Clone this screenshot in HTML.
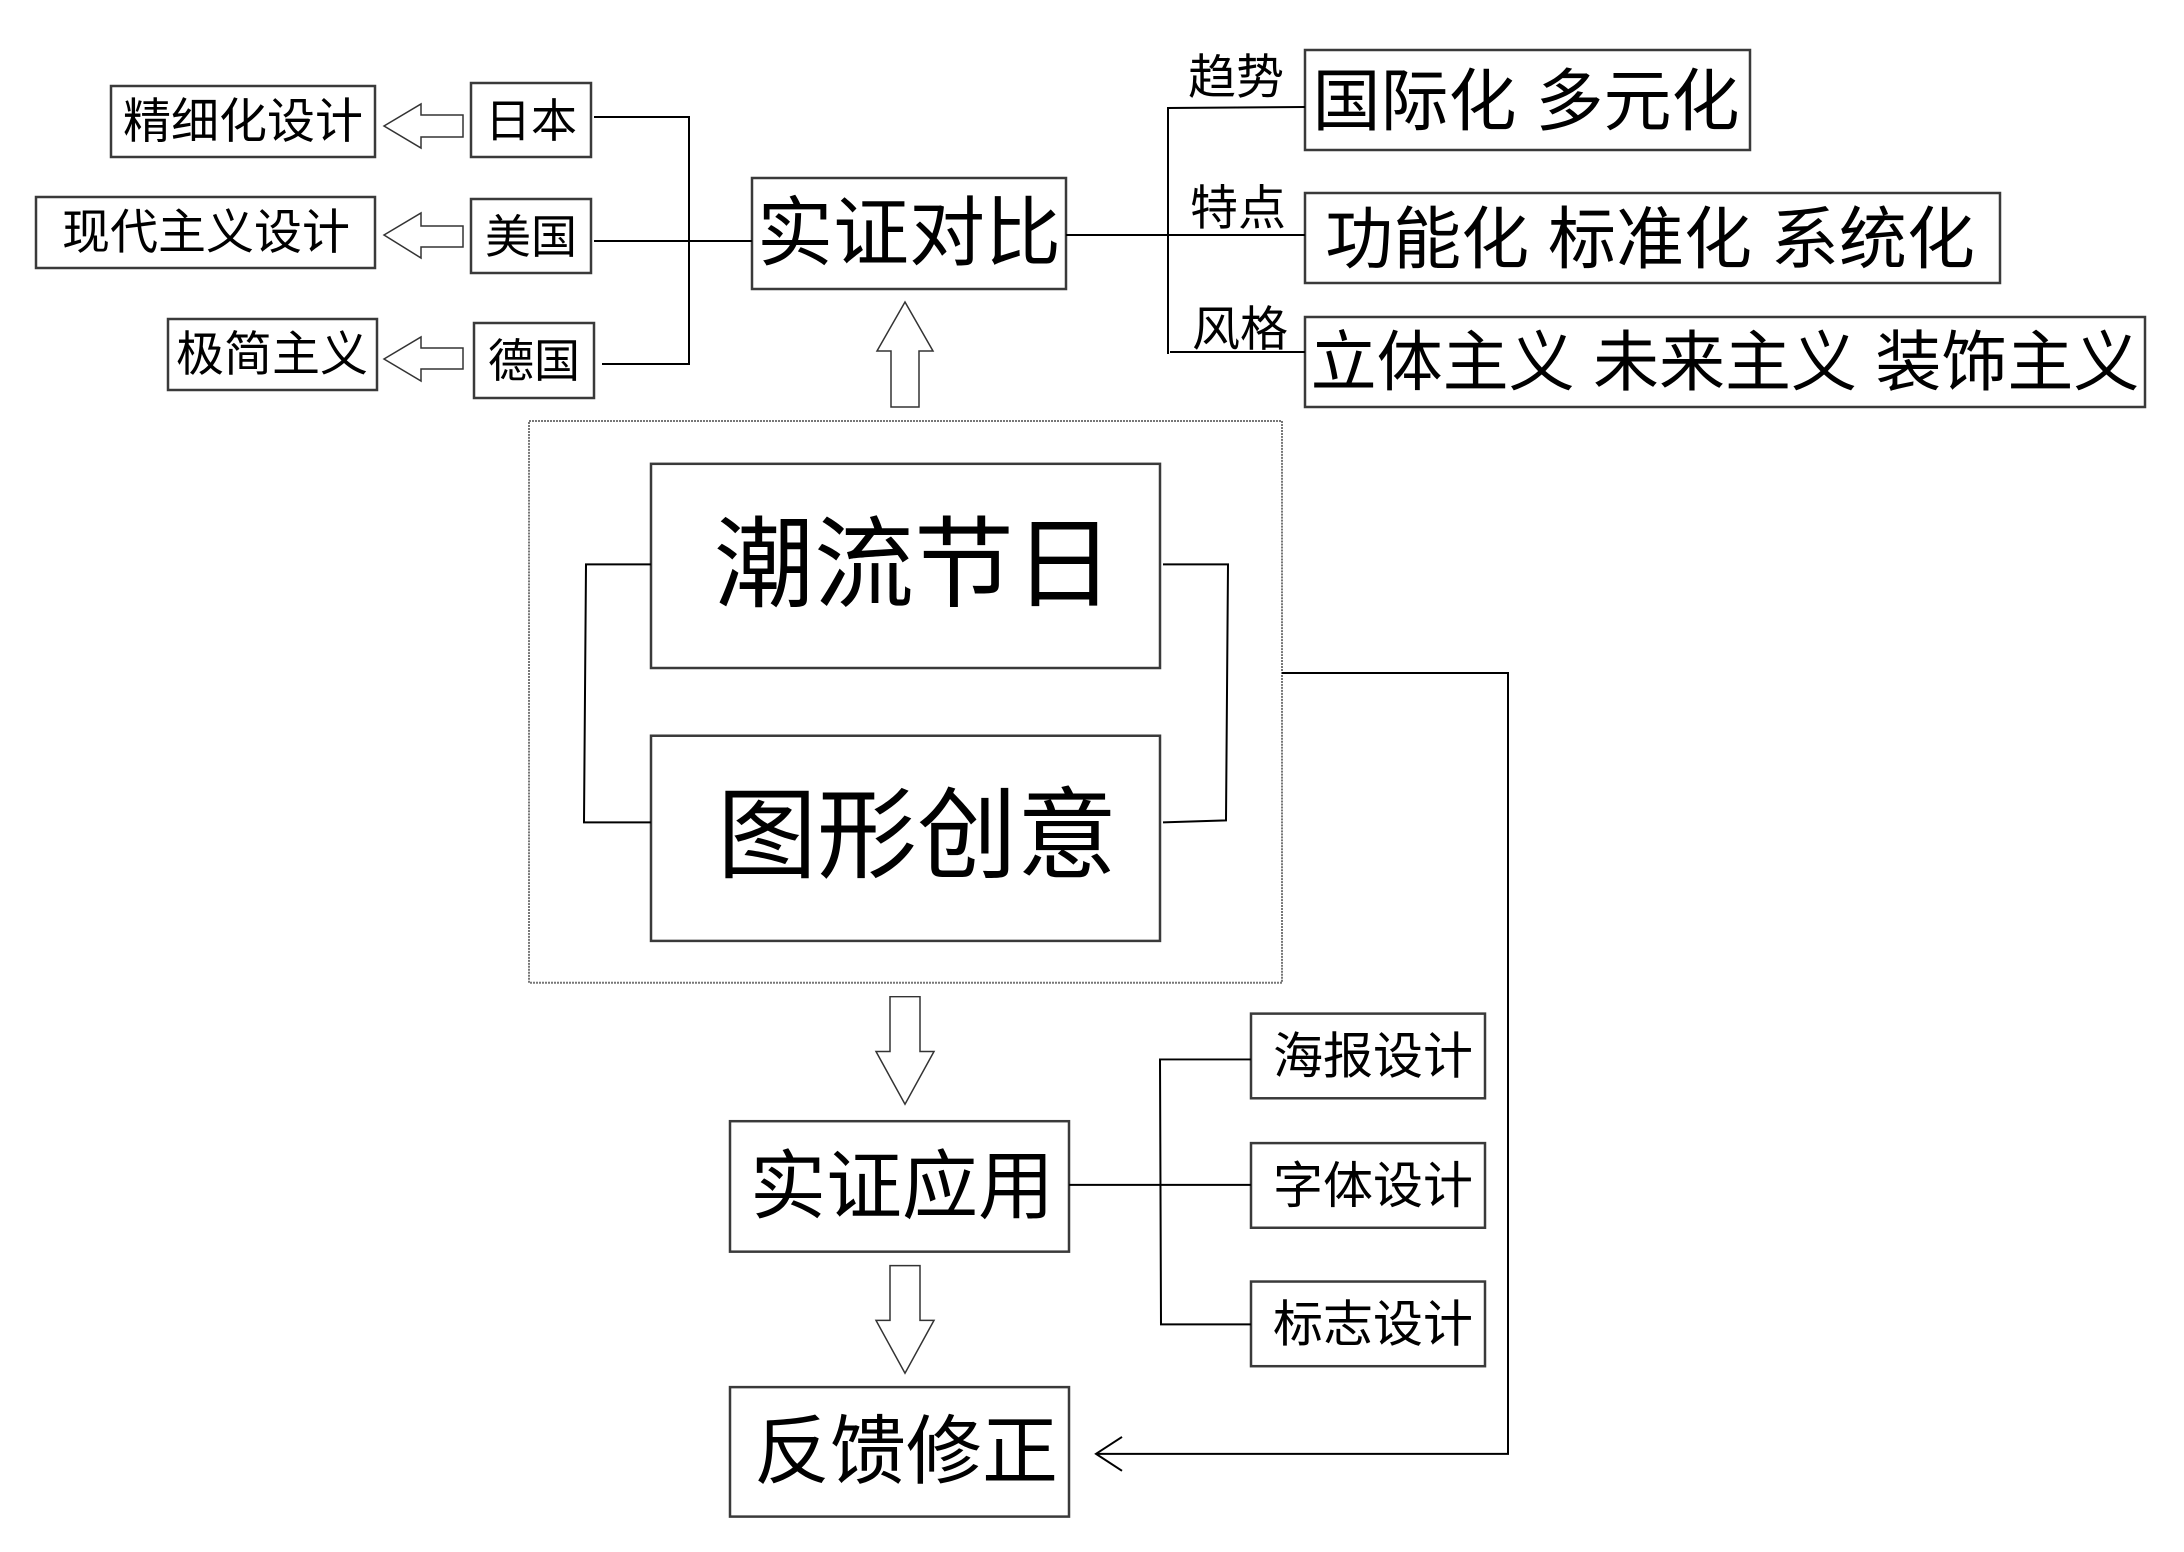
<!DOCTYPE html>
<html><head><meta charset="utf-8"><style>
html,body{margin:0;padding:0;background:#fff;}
svg{display:block;}
text{font-family:"Liberation Sans","Noto Sans CJK SC",sans-serif;fill:#000;}
</style></head><body>
<svg width="2184" height="1552" viewBox="0 0 2184 1552" xmlns="http://www.w3.org/2000/svg">
<g fill="#fff" stroke="#3a3a3a" stroke-width="2.5">
<rect x="111" y="86" width="264" height="71"/>
<rect x="471" y="83" width="120" height="74"/>
<rect x="36" y="197" width="339" height="71"/>
<rect x="471" y="199" width="120" height="74"/>
<rect x="168" y="319" width="209" height="71"/>
<rect x="474" y="323" width="120" height="75"/>
<rect x="752" y="178" width="314" height="111"/>
<rect x="1305" y="50" width="445" height="100"/>
<rect x="1305" y="193" width="695" height="90"/>
<rect x="1305" y="317" width="840" height="90"/>
</g>
<g fill="none" stroke="#000" stroke-width="2">
<polyline points="594,117 689,117 689,364 602,364"/>
<line x1="594" y1="241" x2="752" y2="241"/>
<line x1="1066" y1="235" x2="1305" y2="235"/>
<polyline points="1305,107 1168,108 1168,354"/>
<line x1="1170" y1="352" x2="1305" y2="352"/>
</g>
<g fill="#fff" stroke="#333" stroke-width="1.5">
<polygon points="384,126 421,104 421,115 463,115 463,137 421,137 421,148"/>
<polygon points="384,235 421,213 421,226 463,226 463,247 421,247 421,258"/>
<polygon points="384,359 421,337 421,348 463,348 463,369 421,369 421,381"/>
<polygon points="905,302 933,351 919,351 919,407 891,407 891,351 877,351"/>
</g>
<g transform="translate(-4,-2) translate(0,423) scale(1,0.996) translate(0,-423)">
<g fill="#fff" stroke="#3a3a3a" stroke-width="2.5">
<rect x="655" y="466" width="509" height="205"/>
<rect x="655" y="739" width="509" height="206"/>
<rect x="734" y="1126" width="339" height="131"/>
<rect x="734" y="1393" width="339" height="130"/>
<rect x="1255" y="1018" width="234" height="85"/>
<rect x="1255" y="1148" width="234" height="85"/>
<rect x="1255" y="1287" width="234" height="85"/>
</g>
<rect x="533" y="423" width="753" height="564" fill="none" stroke="#777" stroke-width="2" stroke-dasharray="2,1"/>
<g fill="none" stroke="#000" stroke-width="2">
<polyline points="655,567 590,567 588,826 655,826"/>
<polyline points="1167,567 1232,567 1230,824 1167,826"/>
<polyline points="1286,676 1512,676 1512,1460 1100,1460"/>
<polyline points="1126,1443 1100,1460 1126,1477"/>
<line x1="1073" y1="1190" x2="1255" y2="1190"/>
<polyline points="1255,1064 1164,1064 1165,1330 1255,1330"/>
</g>
<g fill="#fff" stroke="#333" stroke-width="1.5">
<polygon points="894,1001 924,1001 924,1056 938,1056 909,1109 880,1056 894,1056"/>
<polygon points="894,1271 924,1271 924,1326 938,1326 909,1379 880,1326 894,1326"/>
</g>
<g text-anchor="middle" dominant-baseline="central">
<text x="918" y="568" font-size="100">潮流节日</text>
<text x="921" y="840" font-size="100">图形创意</text>
<text x="906" y="1192" font-size="76">实证应用</text>
<text x="910" y="1458" font-size="76">反馈修正</text>
<text x="1377" y="1061" font-size="50">海报设计</text>
<text x="1377" y="1191" font-size="50">字体设计</text>
<text x="1377" y="1330" font-size="50">标志设计</text>
</g>
</g>
<g text-anchor="middle" dominant-baseline="central">
<text x="243" y="122" font-size="48">精细化设计</text>
<text x="531" y="121" font-size="46">日本</text>
<text x="206" y="233" font-size="48">现代主义设计</text>
<text x="531" y="237" font-size="46">美国</text>
<text x="272" y="355" font-size="48">极简主义</text>
<text x="534" y="361" font-size="46">德国</text>
<text x="909" y="234" font-size="76">实证对比</text>
<text x="1236" y="78" font-size="48">趋势</text>
<text x="1238" y="209" font-size="48">特点</text>
<text x="1240" y="330" font-size="48">风格</text>
<text x="1526" y="102" font-size="68">国际化 多元化</text>
<text x="1650" y="240" font-size="68">功能化 标准化 系统化</text>
<text x="1725" y="362" font-size="66">立体主义 未来主义 装饰主义</text>
</g>
</svg>
</body></html>
